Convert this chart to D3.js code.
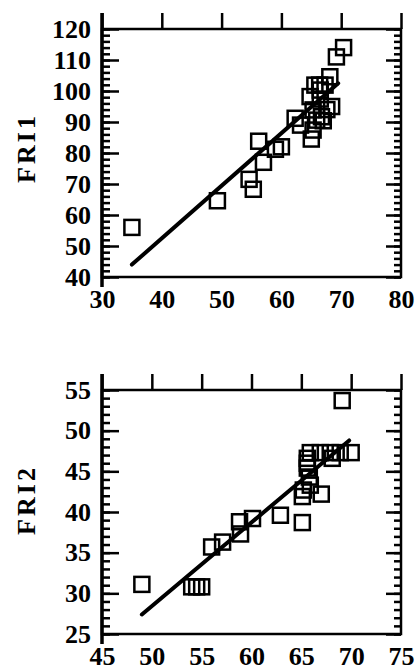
<!DOCTYPE html>
<meta charset="utf-8" />
<script src="https://d3js.org/d3.v7.min.js"></script>
<body style="margin: 0; background-color: #ffffff">
  <div id="chart"></div>
  <script>
    // FRI1 panel
    var fri1X = [35, 49.3, 54.6, 55.3, 56.2, 57, 59, 60, 62.3, 63.2, 65, 64.8, 65.3, 65.9, 67, 66.5, 65.6, 66.4, 67.3, 68.1, 68.4, 69.2, 70.4, 66.5, 67.6, 65.3, 66.7];
    var fri1Y = [56, 64.6, 71.5, 68.3, 83.8, 77, 81.2, 82, 91.2, 89, 84.5, 98.2, 93.9, 90.6, 90.4, 100.3, 101.9, 101.9, 101.9, 104.6, 95, 111, 114, 97.4, 94, 87.4, 91.7];
    var fri1FitX = [35, 69.5];
    var fri1FitY = [44, 102.5];
    var fri1XTicks = [30, 40, 50, 60, 70, 80];
    var fri1YTicks = [40, 50, 60, 70, 80, 90, 100, 110, 120];

    // FRI2 panel
    var fri2X = [49, 54, 54.5, 55, 56, 57.1, 58.9, 58.8, 60.1, 62.9, 65.1, 65.1, 67, 65.9, 65.2, 65.8, 65.6, 65.6, 65.6, 65.9, 66.9, 67.9, 68.9, 70, 68.1, 69.1];
    var fri2Y = [31.1, 30.8, 30.8, 30.8, 35.7, 36.3, 37.3, 38.8, 39.2, 39.6, 38.7, 41.9, 42.2, 43.3, 42.7, 44.3, 45.4, 46, 46.6, 47.3, 47.3, 47.3, 47.3, 47.3, 46.6, 53.7];
    var fri2FitX = [49, 69.8];
    var fri2FitY = [27.4, 48.8];
    var fri2XTicks = [45, 50, 55, 60, 65, 70, 75];
    var fri2YTicks = [25, 30, 35, 40, 45, 50, 55];

    var serif = "'Liberation Serif', 'Times New Roman', Times, 'DejaVu Serif', serif";

    var svg = d3
      .select("#chart")
      .append("svg")
      .attr("width", 416)
      .attr("height", 671);

    function panel(opts) {
      var x = d3.scaleLinear().domain(opts.xDomain).range([102, 401]);
      var y = d3.scaleLinear().domain(opts.yDomain).range([opts.bottom, opts.top]);
      var g = svg.append("g");

      var minor = d3.range(opts.yDomain[0], opts.yDomain[1] + 0.001, opts.minorStep);

      // left axis, ticks pointing in
      g.append("g")
        .attr("class", "ax")
        .attr("transform", "translate(102,0)")
        .call(d3.axisLeft(y).tickValues(minor).tickSize(-8).tickFormat(""));
      g.append("g")
        .attr("class", "ax lab")
        .attr("transform", "translate(102,0)")
        .call(d3.axisLeft(y).tickValues(opts.yTicks).tickSizeInner(-17).tickSizeOuter(0).tickPadding(11));

      // right axis
      g.append("g")
        .attr("class", "ax")
        .attr("transform", "translate(401,0)")
        .call(d3.axisRight(y).tickValues(minor).tickSize(-7).tickFormat(""));
      g.append("g")
        .attr("class", "ax")
        .attr("transform", "translate(401,0)")
        .call(d3.axisRight(y).tickValues(opts.yTicks).tickSize(-15).tickFormat(""));

      // top axis, ticks pointing out
      g.append("g")
        .attr("class", "ax")
        .attr("transform", "translate(0," + opts.top + ")")
        .call(d3.axisTop(x).tickValues(opts.xTicks).tickSize(16).tickFormat(""));

      // bottom axis labels
      g.append("g")
        .attr("class", "ax lab")
        .attr("transform", "translate(0," + opts.bottom + ")")
        .call(d3.axisBottom(x).tickValues(opts.xTicks).tickSize(0).tickPadding(12.5));

      g.selectAll(".ax").attr("font-family", null).attr("font-size", null);
      g.selectAll(".ax .domain").remove();
      g.selectAll(".ax line").attr("stroke", "#000").attr("stroke-width", 2.5);
      g.selectAll(".lab text")
        .attr("fill", "#000")
        .attr("font-family", serif)
        .attr("font-size", 26)
        .attr("font-weight", "bold");

      // frame
      g.append("rect")
        .attr("x", x.range()[0])
        .attr("y", opts.top)
        .attr("width", x.range()[1] - x.range()[0])
        .attr("height", opts.bottom - opts.top)
        .attr("fill", "none")
        .attr("stroke", "#000")
        .attr("stroke-width", 2.5);
      g.append("line")
        .attr("x1", 102)
        .attr("x2", 102)
        .attr("y1", opts.top - 16)
        .attr("y2", opts.bottom + 10)
        .attr("stroke", "#000")
        .attr("stroke-width", 3.5);

      // fit line
      g.append("line")
        .attr("x1", x(opts.fitX[0]))
        .attr("y1", y(opts.fitY[0]))
        .attr("x2", x(opts.fitX[1]))
        .attr("y2", y(opts.fitY[1]))
        .attr("stroke", "#000")
        .attr("stroke-width", 4)
        .attr("stroke-linecap", "round");

      // squares
      var s = 15;
      g.selectAll("rect.pt")
        .data(opts.xs)
        .enter()
        .append("rect")
        .attr("class", "pt")
        .attr("x", function (d) { return x(d) - s / 2; })
        .attr("y", function (d, i) { return y(opts.ys[i]) - s / 2; })
        .attr("width", s)
        .attr("height", s)
        .attr("fill", "none")
        .attr("stroke", "#000")
        .attr("stroke-width", 2.5);

      // y title
      g.append("text")
        .attr("transform", "translate(35," + opts.titleY + ") rotate(-90)")
        .attr("text-anchor", "middle")
        .attr("font-family", serif)
        .attr("font-size", 26)
        .attr("font-weight", "bold")
        .attr("letter-spacing", 3)
        .text(opts.title);
    }

    panel({
      xDomain: [30, 80], yDomain: [40, 120], top: 29, bottom: 277,
      xTicks: fri1XTicks, yTicks: fri1YTicks, minorStep: 2,
      xs: fri1X, ys: fri1Y, fitX: fri1FitX, fitY: fri1FitY,
      title: "FRI1", titleY: 148
    });
    panel({
      xDomain: [45, 75], yDomain: [25, 55], top: 390, bottom: 634,
      xTicks: fri2XTicks, yTicks: fri2YTicks, minorStep: 1,
      xs: fri2X, ys: fri2Y, fitX: fri2FitX, fitY: fri2FitY,
      title: "FRI2", titleY: 500
    });
  </script>
</body>
